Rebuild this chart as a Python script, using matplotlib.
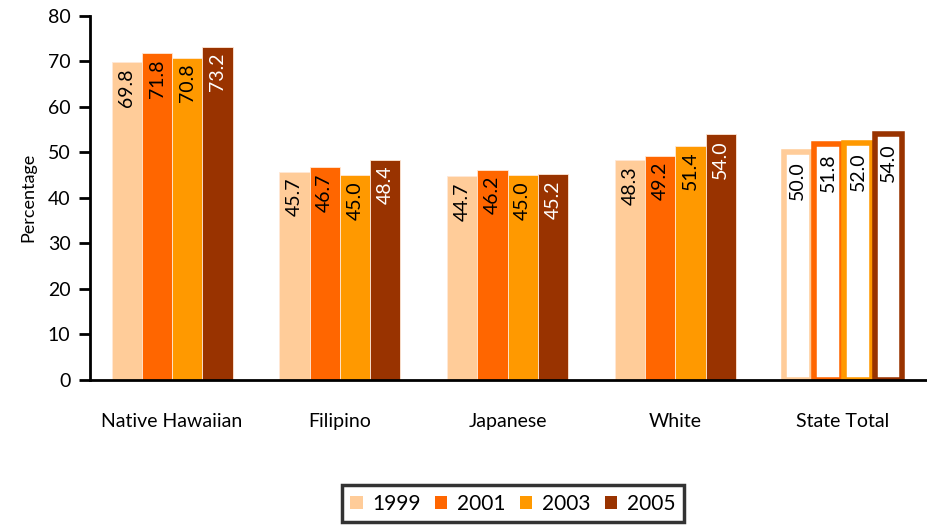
import numpy as np
import matplotlib
matplotlib.use("Agg")
import matplotlib.pyplot as plt
from matplotlib.patches import Patch

plt.rcParams['font.family'] = ['Lato', 'DejaVu Sans']

# data
categories = ['Native Hawaiian', 'Filipino', 'Japanese', 'White', 'State Total']
years = ['1999', '2001', '2003', '2005']
v1999 = [69.8, 45.7, 44.7, 48.3, 50.0]
v2001 = [71.8, 46.7, 46.2, 49.2, 51.8]
v2003 = [70.8, 45.0, 45.0, 51.4, 52.0]
v2005 = [73.2, 48.4, 45.2, 54.0, 54.0]
series = [v1999, v2001, v2003, v2005]
colors = ['#FFCC99', '#FF6600', '#FF9900', '#993300']
text_colors = ['black', 'black', 'black', 'white']

fig = plt.figure(figsize=(9.27, 5.29), dpi=100)
ax = fig.add_axes([0.097, 0.282, 0.903, 0.688])

x = np.arange(len(categories))
w = 0.18
for i, vals in enumerate(series):
    xs = x + (i - 1.5) * w
    for j, v in enumerate(vals):
        if categories[j] == 'State Total':
            ax.bar(xs[j], v, w * 0.92, facecolor='white', edgecolor=colors[i],
                   linewidth=4, zorder=2 + i * 0.1)
            tc = 'black'
            off = 2.0
        else:
            ax.bar(xs[j], v, w, color=colors[i], edgecolor='#FFE8D6',
                   linewidth=0.6, zorder=2)
            tc = text_colors[i]
            off = 1.3
        ax.text(xs[j], v - off, f'{v:.1f}', rotation=90, ha='center', va='top',
                fontsize=14, color=tc, zorder=3)

ax.set_xlim(-0.49, 4.5)
ax.set_ylim(0, 80)
ax.set_yticks(range(0, 81, 10))
ax.set_xticks(x)
ax.set_xticklabels(categories, fontsize=14)
ax.tick_params(axis='x', length=0, pad=24)
ax.tick_params(axis='y', labelsize=14, width=2, length=8, direction='out', pad=6)
ax.set_ylabel('Percentage', fontsize=13, labelpad=8)

for s in ['top', 'right']:
    ax.spines[s].set_visible(False)
ax.spines['left'].set_linewidth(2)
ax.spines['bottom'].set_linewidth(2)

handles = [Patch(facecolor=c, edgecolor='none') for c in colors]
leg = fig.legend(handles, years, loc='center', bbox_to_anchor=(0.553, 0.048),
                 ncol=4, fontsize=15, frameon=True, fancybox=False,
                 handlelength=0.6, handleheight=0.6, handletextpad=0.45,
                 columnspacing=0.7, borderpad=0.4)
leg.get_frame().set_edgecolor('black')
leg.get_frame().set_linewidth(2.5)

fig.savefig('out.png', dpi=100)
